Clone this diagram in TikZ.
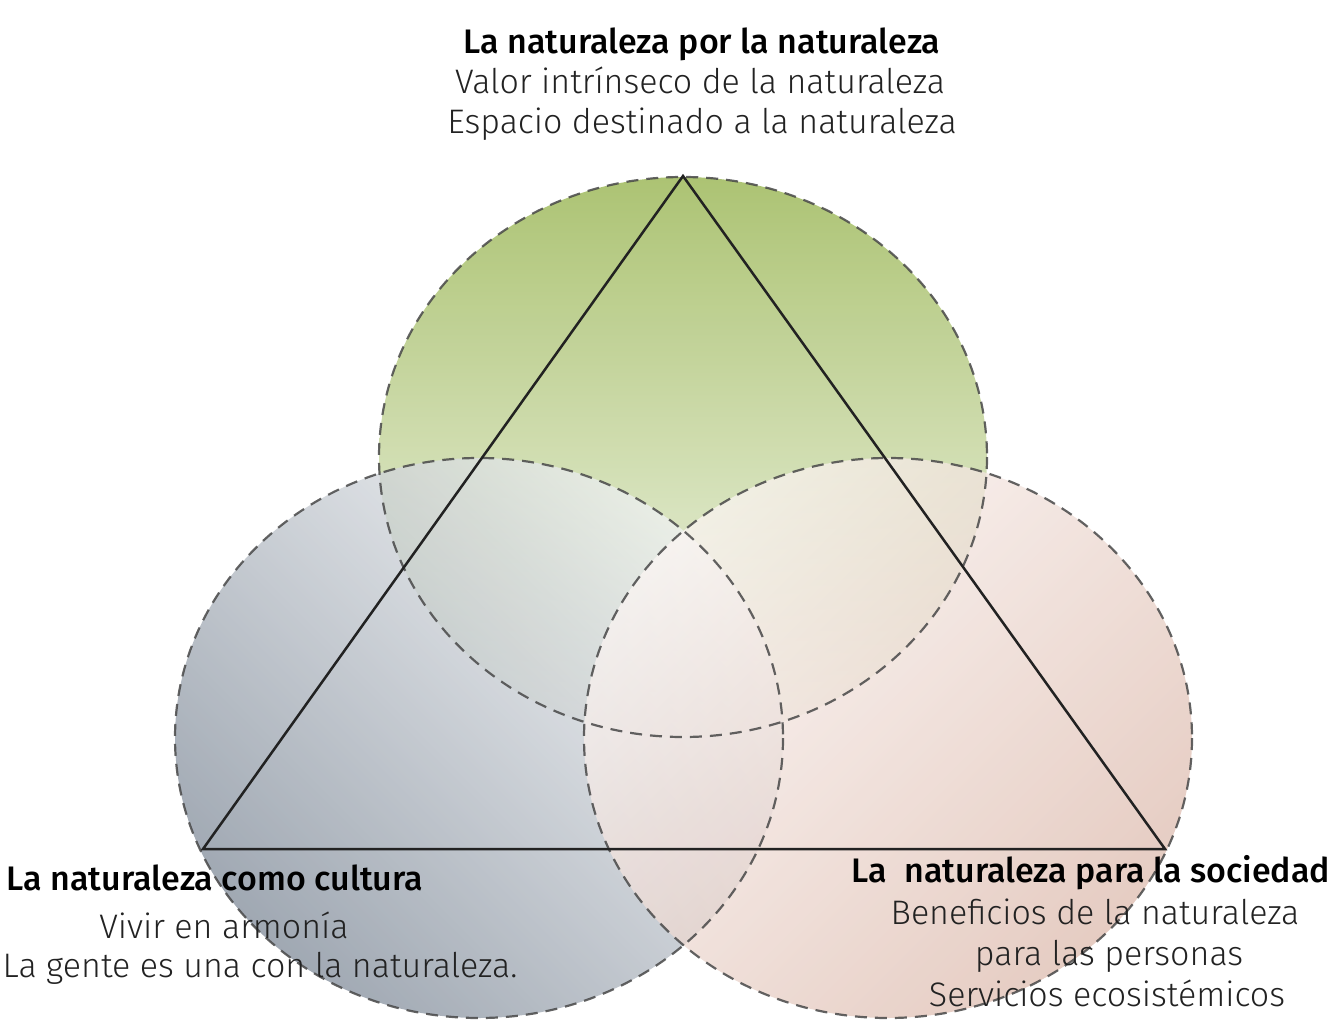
\documentclass[tikz,border=0pt]{standalone}
\usepackage{fontspec}
\setmainfont{Fira Sans}[UprightFont=* Light, BoldFont=* Medium]
\usepackage{xcolor}
\usetikzlibrary{positioning}
\definecolor{leafgreen}{HTML}{A8C06C}
\definecolor{palegreen}{HTML}{F4F7EE}
\definecolor{slategray}{HTML}{808B99}
\definecolor{mistgray}{HTML}{F0F2F4}
\definecolor{rosebeige}{HTML}{DDBBAE}
\definecolor{palerose}{HTML}{FBF5F3}
\definecolor{edgegray}{HTML}{484848}
\definecolor{inkblack}{HTML}{222222}

\begin{document}
\begin{tikzpicture}[x=0.5pt, y=-0.5pt,
    font=\fontsize{17}{20}\selectfont,
    ring/.style={draw=edgegray, line width=1.1pt, dash pattern=on 6pt off 4pt, draw opacity=0.85},
    headline/.style={font=\fontsize{17}{20}\selectfont\bfseries, text=black, inner sep=0pt},
    subline/.style={text=inkblack, inner sep=0pt}]
  \useasboundingbox (0,0) rectangle (1332,1032);
  % circles
  \shade[top color=leafgreen, bottom color=palegreen, fill opacity=0.95]
    (683,457) ellipse [x radius=304, y radius=280];
  \shade[left color=slategray, right color=mistgray, shading angle=135, fill opacity=0.75]
    (479,738) ellipse [x radius=304, y radius=280];
  \shade[right color=rosebeige, left color=palerose, shading angle=45, fill opacity=0.75]
    (888,738) ellipse [x radius=304, y radius=280];
  \draw[ring] (683,457) ellipse [x radius=304, y radius=280];
  \draw[ring] (479,738) ellipse [x radius=304, y radius=280];
  \draw[ring] (888,738) ellipse [x radius=304, y radius=280];
  % triangle
  \coordinate (apex) at (683,176);
  \coordinate (culture) at (203,849);
  \coordinate (society) at (1165,849);
  \draw[inkblack, line width=1.25pt, line join=miter] (apex) -- (culture) -- (society) -- cycle;
  % texts
  \node[headline] (natTitle) at (702,44) {La naturaleza por la naturaleza};
  \node[subline] (natLineA) at (700,80) {Valor intrínseco de la naturaleza};
  \node[subline] (natLineB) at (702,124) {Espacio destinado a la naturaleza};
  \node[headline] (culTitle) at (215,878) {La naturaleza como cultura};
  \node[subline] (culLineA) at (224,925) {Vivir en armonía};
  \node[subline] (culLineB) at (260,968) {La gente es una con la naturaleza.};
  \node[headline] (socTitle) at (1091,873) {La\ \ naturaleza para la sociedad};
  \node[subline] (socLineA) at (1095,912) {Beneficios de la naturaleza};
  \node[subline] (socLineB) at (1109,956) {para las personas};
  \node[subline] (socLineC) at (1107,993) {Servicios ecosistémicos};
\end{tikzpicture}
\end{document}
